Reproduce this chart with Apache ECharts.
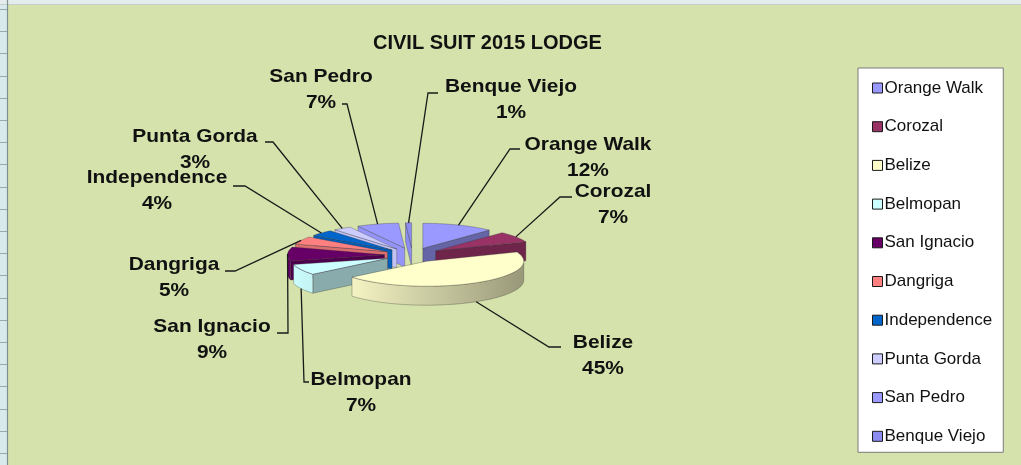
<!DOCTYPE html>
<html>
<head>
<meta charset="utf-8">
<script src="https://cdn.jsdelivr.net/npm/echarts@6/dist/echarts.min.js"></script>
<style>
  html, body { margin: 0; padding: 0; background: #d5e2ab; }
  #chart { width: 1021px; height: 465px; }
</style>
</head>
<body>
<div id="chart"></div>
<script>
// Lodge share of civil suits filed in 2015, by district
const districts = ['Orange Walk', 'Corozal', 'Belize', 'Belmopan', 'San Ignacio',
                   'Dangriga', 'Independence', 'Punta Gorda', 'San Pedro', 'Benque Viejo'];
const shares = [12, 7, 45, 7, 9, 5, 4, 3, 7, 1];
const sliceColors = ['#9999FF', '#993366', '#FFFFCC', '#CCFFFF', '#660066',
                     '#FF8080', '#0066CC', '#CCCCFF', '#9999FF', '#8C8CF0'];
const chartTitle = 'CIVIL SUIT 2015 LODGE';

// label layout: [name-line centre x, y, leader elbow x, y, tick end x]
const labelSpots = [
  [588, 145, 510, 149, 520],
  [613, 192, 560, 197, 572],
  [603, 343, 549, 347, 561],
  [361, 380, 304, 382, 309],
  [212, 327, 288, 333, 277],
  [174, 265, 235, 271, 225],
  [157, 178, 245, 186, 233],
  [195, 137, 273, 142, 265],
  [321, 77, 347, 104, 342],
  [511, 87, 428, 93, 438]
];

// tilted pie: centre, ellipse radii, wall height, slice pull-out
const PIE = { cx: 412.5, cy: 255, rx: 97, ry: 25, depth: 19, explode: 28 };
const FONT = '"Liberation Sans", Arial, Helvetica, sans-serif';

const total = shares.reduce((s, v) => s + v, 0);
const startAngles = [];
shares.reduce((acc, v) => { startAngles.push(acc / total * 360); return acc + v; }, 0);
const midAngles = shares.map((v, i) => startAngles[i] + v / total * 180);

const rad = d => d * Math.PI / 180;
function rim(theta, off, drop) {
  return [PIE.cx + off[0] + PIE.rx * Math.sin(rad(theta)),
          PIE.cy + off[1] - PIE.ry * Math.cos(rad(theta)) + (drop || 0)];
}
function arcPts(a1, a2, off, drop) {
  const n = Math.max(2, Math.ceil((a2 - a1) / 2));
  const pts = [];
  for (let k = 0; k <= n; k++) pts.push(rim(a1 + (a2 - a1) * k / n, off, drop));
  return pts;
}
function shade(hex, f) {
  const n = parseInt(hex.slice(1), 16);
  const c = [(n >> 16) & 255, (n >> 8) & 255, n & 255]
    .map(x => Math.max(0, Math.min(255, Math.round(x * f))));
  return 'rgb(' + c.join(',') + ')';
}
// light falls from the front-left
const light = theta => 0.8 - 0.2 * Math.sin(rad(theta));

// paint back slices first
const order = midAngles.map((m, i) => i)
  .sort((a, b) => Math.cos(rad(midAngles[b])) - Math.cos(rad(midAngles[a])));
const depthRank = [];
order.forEach((idx, r) => { depthRank[idx] = r; });

function renderSlice(params, api) {
  const i = params.dataIndex;
  const v = api.value(0);
  const a1 = startAngles[i];
  const a2 = a1 + v / total * 360;
  const mid = (a1 + a2) / 2;
  const off = [PIE.explode * Math.sin(rad(mid)),
               -PIE.explode * Math.cos(rad(mid)) * PIE.ry / PIE.rx];
  const apex = [PIE.cx + off[0], PIE.cy + off[1]];
  const apexLow = [apex[0], apex[1] + PIE.depth];
  const col = sliceColors[i];
  const z = depthRank[i] * 10;
  const edge = { stroke: 'rgba(50,50,50,0.45)', lineWidth: 0.7 };
  const kids = [];

  if (a1 > 180 && a1 < 360) {
    kids.push({
      type: 'polygon', z2: z + 1,
      shape: { points: [apex, rim(a1, off), rim(a1, off, PIE.depth), apexLow] },
      style: Object.assign({ fill: shade(col, light(a1 - 90)) }, edge)
    });
  }
  if (a2 > 0 && a2 < 180) {
    kids.push({
      type: 'polygon', z2: z + 1,
      shape: { points: [apex, rim(a2, off), rim(a2, off, PIE.depth), apexLow] },
      style: Object.assign({ fill: shade(col, light(a2 + 90)) }, edge)
    });
  }
  const lo = Math.max(a1, 90), hi = Math.min(a2, 270);
  if (hi > lo) {
    const pts = arcPts(lo, hi, off).concat(arcPts(lo, hi, off, PIE.depth).reverse());
    const xHi = rim(hi, off)[0], xLo = rim(lo, off)[0];
    kids.push({
      type: 'polygon', z2: z + 2,
      shape: { points: pts },
      style: Object.assign({
        fill: new echarts.graphic.LinearGradient(xHi, 0, xLo, 0, [
          { offset: 0, color: shade(col, light(hi)) },
          { offset: 1, color: shade(col, light(lo)) }
        ], true)
      }, edge)
    });
  }
  kids.push({
    type: 'polygon', z2: z + 5,
    shape: { points: [apex].concat(arcPts(a1, a2, off)) },
    style: Object.assign({ fill: col }, edge)
  });

  // leader line and label
  const spot = labelSpots[i];
  const anchor = rim(mid, off, Math.cos(rad(mid)) < 0 ? PIE.depth : 0);
  kids.push({
    type: 'polyline', z2: 1000,
    shape: { points: [[spot[4], spot[3]], [spot[2], spot[3]], anchor] },
    style: { stroke: '#1a1a1a', lineWidth: 1.3, fill: null }
  });
  kids.push({
    type: 'text', z2: 1001,
    x: spot[0], y: spot[1] + 13, scaleX: 1.1,
    style: {
      text: api.value(1) + '\n' + Math.round(v / total * 100) + '%',
      fontSize: 19, fontWeight: 'bold', fontFamily: FONT,
      lineHeight: 26, fill: '#111', align: 'center', verticalAlign: 'middle'
    }
  });
  return { type: 'group', children: kids };
}

// spreadsheet grid peeking in at the left and top edges
const gridDecor = [
  { type: 'rect', shape: { x: 0, y: 0, width: 7, height: 465 }, style: { fill: '#d8eaee' }, silent: true },
  { type: 'rect', shape: { x: 0, y: 0, width: 1021, height: 4 }, style: { fill: '#e4ecec' }, silent: true },
  { type: 'line', shape: { x1: 0, y1: 4.5, x2: 1021, y2: 4.5 }, style: { stroke: '#c4d0cc', lineWidth: 1 }, silent: true },
  { type: 'line', shape: { x1: 7.5, y1: 0, x2: 7.5, y2: 465 }, style: { stroke: '#7f9090', lineWidth: 1.2 }, silent: true }
];
for (let k = 0; k <= 20; k++) {
  const y = Math.round(9 + k * 22.2) + 0.5;
  gridDecor.push({ type: 'line', shape: { x1: 0, y1: y, x2: 7, y2: y },
    style: { stroke: '#9aaaac', lineWidth: 1 }, silent: true });
}

const chart = echarts.init(document.getElementById('chart'));
chart.setOption({
  animation: false,
  backgroundColor: '#d5e2ab',
  title: {
    text: chartTitle,
    left: 368, top: 28,
    textStyle: { fontSize: 20, fontWeight: 'bold', fontFamily: FONT, color: '#111' }
  },
  legend: {
    data: districts,
    orient: 'vertical',
    left: 858, top: 68,
    itemWidth: 10, itemHeight: 10, itemGap: 18.7,
    padding: [10, 11, 6, 14],
    icon: 'rect',
    selectedMode: false,
    backgroundColor: '#ffffff',
    borderColor: '#7a7a7a', borderWidth: 1,
    itemStyle: { borderColor: '#1a1a1a', borderWidth: 1 },
    textStyle: { fontSize: 17, fontFamily: FONT, color: '#111', lineHeight: 20, padding: [0, 0, 0, -3] }
  },
  graphic: gridDecor,
  series: [
    {
      type: 'custom',
      name: chartTitle,
      coordinateSystem: 'none',
      silent: true,
      renderItem: renderSlice,
      data: districts.map((d, i) => [shares[i], d])
    },
    {
      // carries the district names and colours for the legend
      type: 'pie',
      radius: [0, 0],
      center: [-50, -50],
      silent: true,
      label: { show: false },
      labelLine: { show: false },
      data: districts.map((d, i) => ({ name: d, value: shares[i], itemStyle: { color: sliceColors[i] } }))
    }
  ]
});
</script>
</body>
</html>
